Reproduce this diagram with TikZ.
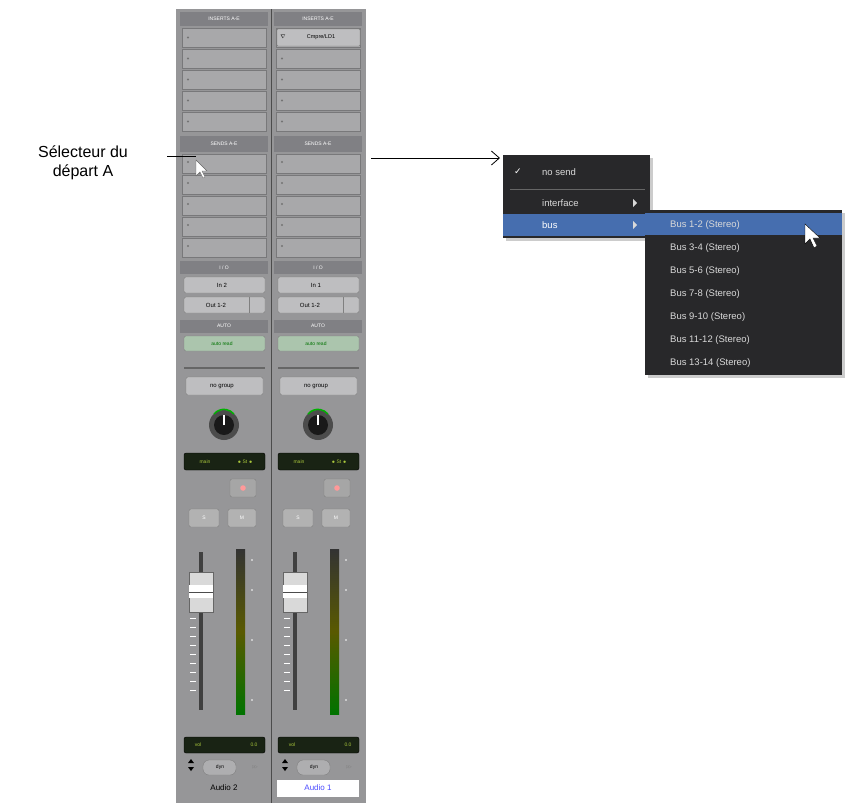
\documentclass[tikz,border=0pt]{standalone}
\usepackage{fontspec}
\setmainfont{Liberation Sans}
\newfontfamily\djv{DejaVu Sans}
\usetikzlibrary{arrows.meta}
\definecolor{strip}{RGB}{150,150,152}
\definecolor{slot}{RGB}{168,168,170}
\definecolor{hdr}{RGB}{128,128,132}
\definecolor{btn}{RGB}{190,190,192}
\definecolor{menubg}{RGB}{40,40,42}
\definecolor{hl}{RGB}{70,110,175}
\definecolor{lcd}{RGB}{25,35,20}
\definecolor{lcdtxt}{RGB}{170,200,60}
\tikzset{
  hdrbox/.style={fill=hdr,draw=strip!70!black,line width=0.3pt},
  slotbox/.style={fill=slot,draw=strip!80!black,line width=0.3pt},
  btnbox/.style={fill=btn,draw=black!50,rounded corners=2pt,line width=0.4pt},
  lcdbox/.style={fill=lcd,draw=black,rounded corners=2pt},
  small/.style={font=\fontsize{5}{6}\selectfont},
  mtxt/.style={text=white!85!black,font=\fontsize{9.5}{11}\selectfont,anchor=west,inner sep=0pt},
}
\begin{document}
\begin{tikzpicture}[x=1pt,y=-1pt]
\useasboundingbox (0,0) rectangle (854,804);
\fill[white] (0,0) rectangle (854,804);
% strips
\fill[strip] (176,9) rectangle (366,803);
\draw[black!70,line width=0.6pt] (271.5,9) -- (271.5,803);
\foreach \o/\name/\inp/\nb [count=\i] in {0/Audio 2/In 2/a,94/Audio 1/In 1/b}{
 \begin{scope}[xshift=\o]
  \fill[hdr] (180,12) rectangle (268,26);
  \node[small,text=white!80] (ins\nb) at (224,19) {INSERTS A-E};
  \foreach \k in {0,...,4}{
    \draw[slotbox] (182,28+\k*21) rectangle (266,47+\k*21);
    \fill[black!55] (188,37.5+\k*21) circle (1.2);
  }
  \fill[hdr] (180,136) rectangle (268,152);
  \node[small,text=white!80] (snd\nb) at (224,144) {SENDS A-E};
  \foreach \k in {0,...,4}{
    \draw[slotbox] (182,154+\k*21) rectangle (266,173+\k*21);
    \fill[black!55] (188,162+\k*21) circle (1.2);
  }
  \fill[hdr] (180,261) rectangle (268,274);
  \node[small,text=white!80] (io\nb) at (224,268) {I / O};
  \draw[btnbox] (184,277) rectangle (265,293);
  \node[small,font=\fontsize{6}{7}\selectfont] (in\nb) at (222,285) {\inp};
  \draw[btnbox] (184,297) rectangle (265,313);
  \draw[black!50] (249,297) -- (249,313);
  \node[small,font=\fontsize{6}{7}\selectfont] (out\nb) at (216,305) {Out 1-2};
  \fill[hdr] (180,320) rectangle (268,333);
  \node[small,text=white!80] (au\nb) at (224,326) {AUTO};
  \draw[btnbox,fill=btn!90!green] (184,336) rectangle (265,351);
  \node[small,text=green!45!black] (ar\nb) at (222,344) {auto read};
  \draw[black!60,line width=1.5pt] (184,368) -- (265,368);
  \draw[btnbox] (186,377) rectangle (263,395);
  \node[small,font=\fontsize{6}{7}\selectfont] (ng\nb) at (222,386) {no group};
  % knob
  \fill[black!70] (224,425) circle (15);
  \fill[black!90] (224,425) circle (10);
  \draw[white,line width=1.5pt] (224,425) -- (224,415);
  \draw[green!70!black,line width=1.5pt] (214,414) arc (220:320:13);
  % main
  \draw[lcdbox] (184,453) rectangle (265,470);
  \node[small,text=lcdtxt] (mn\nb) at (205,462) {main};
  \node[small,text=lcdtxt] at (245,462) {$\bullet$ St $\bullet$};
  % record
  \draw[btnbox,fill=black!35] (230,479) rectangle (256,497);
  \fill[red!40!white] (243,488) circle (2.8);
  % S M
  \draw[btnbox,fill=black!30] (189,509) rectangle (219,527);
  \node[small,text=white] (s\nb) at (204,518) {S};
  \draw[btnbox,fill=black!30] (228,509) rectangle (256,527);
  \node[small,text=white] (m\nb) at (242,518) {M};
  % fader
  \fill[black!75] (199,552) rectangle (203,710);
  \foreach \t in {0,...,10}{\draw[white!70,line width=0.3pt] (190,600+\t*9) -- (196,600+\t*9);}
  \draw[black!60,fill=black!15] (189,572) rectangle (213,612);
  \fill[white] (189,585) rectangle (213,598);
  \draw[black!70] (189,592) -- (213,592);
  % meter
  \shade[top color=black!80,bottom color=green!45!black,middle color=olive!70!black] (236,549) rectangle (245,714);
  \foreach \t in {560,590,640,700}{\fill[white!80] (252,\t) circle (0.8);}
  % vol
  \draw[lcdbox] (184,737) rectangle (265,753);
  \node[small,text=lcdtxt] (vl\nb) at (198,745) {vol};
  \node[small,text=lcdtxt] at (254,745) {0.0};
  % dyn
  \fill[black] (188,763) -- (191,759) -- (194,763) -- cycle;
  \fill[black] (188,767) -- (191,771) -- (194,767) -- cycle;
  \draw[btnbox,rounded corners=6pt,fill=btn!60!strip] (203,760) rectangle (236,775);
  \node[small] (dy\nb) at (220,767.5) {dyn};
  \node[small,text=black!50] at (255,767.5) {$\triangleright\!\triangleright$};
 \end{scope}
}
% cmpre
\draw[btnbox,rounded corners=1pt] (277,29) rectangle (360,46);
\node[small,font=\fontsize{5.5}{6}\selectfont] (cmp) at (321,37.5) {Cmpre/LD1};
\node[small] at (283,37) {$\nabla$};
% names
\node[font=\fontsize{8}{9}\selectfont] (na) at (224,788) {Audio 2};
\fill[white] (277,780) rectangle (359,797);
\node[font=\fontsize{8}{9}\selectfont,text=blue!70] (nb) at (318,788) {Audio 1};
% cursor 1
\fill[white,draw=black!60] (196,160) -- (196,176) -- (200,172) -- (203,178) -- (205,177) -- (202,171) -- (207,171) -- cycle;
% label
\node[align=center,font=\fontsize{16}{19}\selectfont,inner sep=0pt] (lab) at (83,163) {Sélecteur du\\départ A};
\coordinate (lend) at (196,156);
\draw[line width=0.8pt] (167,156) -- (lend);
% arrow to menu
\coordinate (astart) at (371,158);
\coordinate (aend) at (500,158);
\draw[line width=0.8pt,-{Straight Barb[length=8pt,width=14pt]}] (astart) -- (aend);
% menu 1
\fill[black!20] (506,158) rectangle (653,241);
\fill[menubg] (503,155) rectangle (650,238);
\draw[black!60] (510,189) -- (645,189);
\fill[hl] (503,214) rectangle (650,236);
\node[mtxt,text=white] at (514,172) {\djv\fontsize{9}{10}\selectfont ✓};
\node[mtxt] (ns) at (542,172) {no send};
\node[mtxt] (if) at (542,203) {interface};
\fill[white!85!black] (633,199) -- (637,203) -- (633,207) -- cycle;
\node[mtxt,text=white!90] (bu) at (542,225) {bus};
\fill[white!85!black] (633,221) -- (637,225) -- (633,229) -- cycle;
% menu 2
\fill[black!20] (648,213) rectangle (845,378);
\fill[menubg] (645,210) rectangle (842,375);
\fill[hl] (645,213) rectangle (842,235);
\foreach \t/\yy [count=\j] in {Bus 1-2 (Stereo)/225,Bus 3-4 (Stereo)/248,Bus 5-6 (Stereo)/271,Bus 7-8 (Stereo)/294,Bus 9-10 (Stereo)/317,Bus 11-12 (Stereo)/340,Bus 13-14 (Stereo)/363}{
  \node[mtxt] (bus\j) at (670,\yy) {\t};
}
% cursor 2
\fill[white,draw=black] (805,224) -- (805,244) -- (810,239) -- (814,248) -- (817,246) -- (813,238) -- (820,238) -- cycle;
\end{tikzpicture}
\end{document}
